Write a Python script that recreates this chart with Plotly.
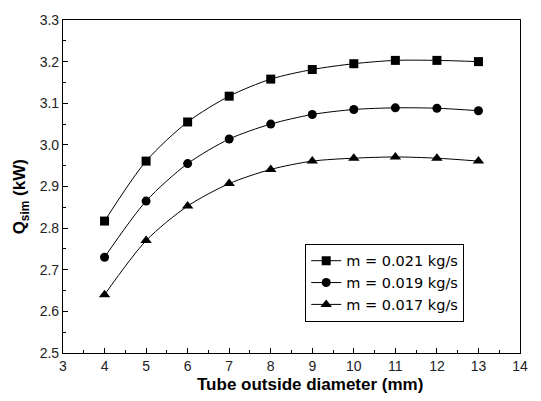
import plotly.graph_objects as go

diam = [4, 5, 6, 7, 8, 9, 10, 11, 12, 13]
q_021 = [2.817, 2.961, 3.055, 3.117, 3.158, 3.181, 3.195, 3.203, 3.203, 3.200]
q_019 = [2.730, 2.865, 2.955, 3.014, 3.050, 3.073, 3.085, 3.089, 3.088, 3.082]
q_017 = [2.640, 2.770, 2.853, 2.907, 2.941, 2.961, 2.968, 2.971, 2.968, 2.961]
names = ["m = 0.021 kg/s", "m = 0.019 kg/s", "m = 0.017 kg/s"]
symbols = ["square", "circle", "triangle-up"]
x_ticks = list(range(3, 15))
y_ticks = [2.5, 2.6, 2.7, 2.8, 2.9, 3.0, 3.1, 3.2, 3.3]

fig = go.Figure()
for ys, nm, sym in zip([q_021, q_019, q_017], names, symbols):
    fig.add_trace(go.Scatter(
        x=diam, y=ys, name=nm, mode="lines+markers",
        line=dict(color="black", width=1, shape="spline", smoothing=0.8),
        marker=dict(symbol=sym, size=9 if sym != "triangle-up" else 10, color="black"),
    ))

axis_common = dict(
    showline=True, linecolor="black", linewidth=1.2, mirror=True,
    ticks="inside", ticklen=5, tickcolor="black", showgrid=False, zeroline=False,
    tickfont=dict(family="Liberation Sans Narrow, Arial, sans-serif", size=14, color="#222"),
)
fig.update_xaxes(range=[3, 14], tickvals=x_ticks, ticktext=[str(v) for v in x_ticks],
                 minor=dict(ticks="inside", ticklen=3, dtick=0.5, tickcolor="black"),
                 **axis_common)
fig.update_yaxes(range=[2.5, 3.3], tickvals=y_ticks, ticktext=[f"{v:.1f}" for v in y_ticks],
                 minor=dict(ticks="inside", ticklen=3, dtick=0.05, tickcolor="black"),
                 **axis_common)
title_font = dict(family="Liberation Sans, Arial", size=17, color="black")
fig.add_annotation(text="<b>Tube outside diameter (mm)</b>", xref="paper", yref="paper",
                   x=0.54, y=-0.095, xanchor="center", yanchor="middle",
                   showarrow=False, font=title_font)
fig.add_annotation(text="<b>Q<sub>sim</sub> (kW)</b>", xref="paper", yref="paper",
                   x=-0.09, y=0.47, xanchor="center", yanchor="middle", textangle=-90,
                   showarrow=False, font=title_font)
fig.update_layout(
    width=541, height=401,
    margin=dict(l=63, r=21, t=15, b=48),
    paper_bgcolor="white", plot_bgcolor="white",
    legend=dict(x=0.53, y=0.328, xanchor="left", yanchor="top",
                bordercolor="black", borderwidth=1, bgcolor="white",
                font=dict(family="DejaVu Sans", size=14.5, color="black"),
                tracegroupgap=0),
    showlegend=True,
)
fig.write_html("out.html")
